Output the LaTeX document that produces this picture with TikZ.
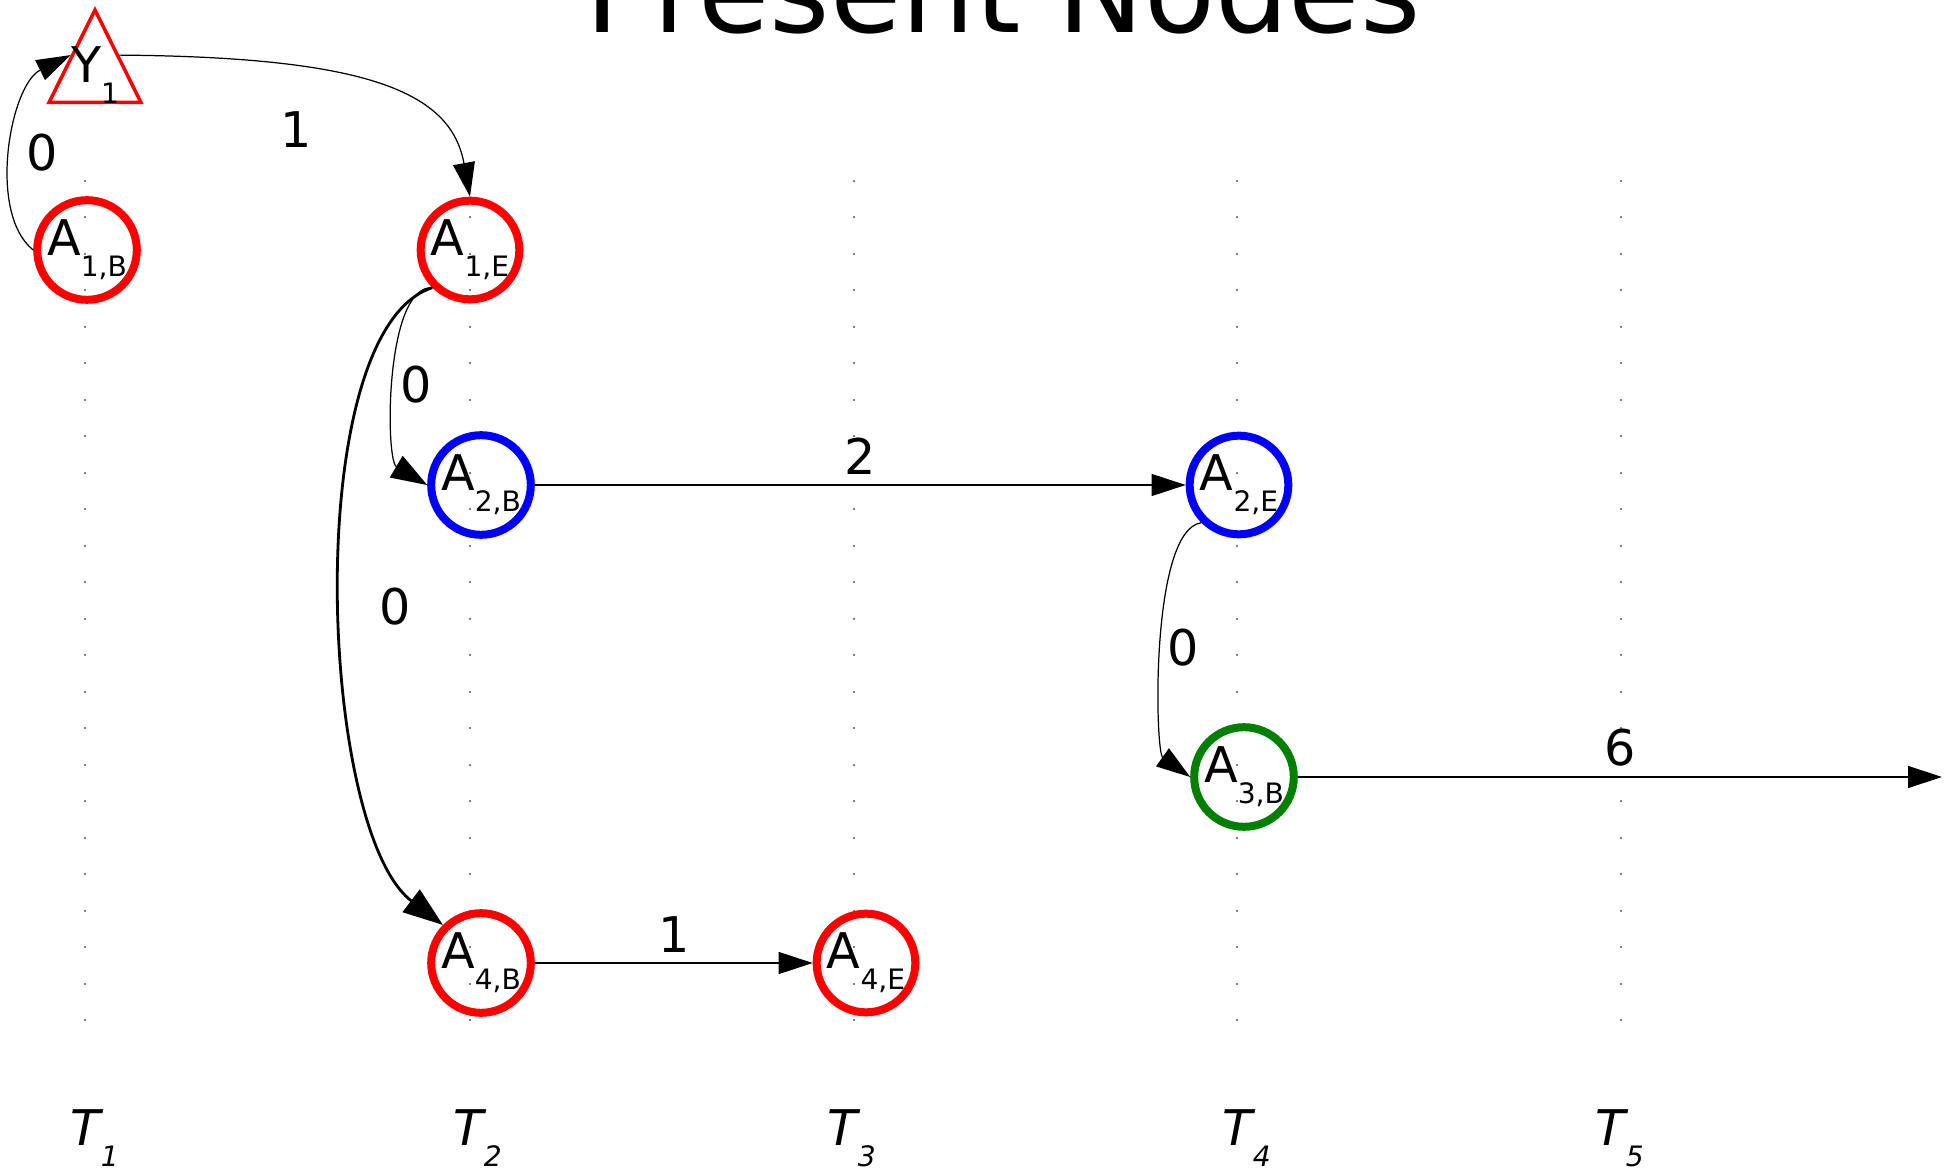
\documentclass[tikz,border=0pt]{standalone}
\usepackage{fontspec}
\setmainfont{DejaVu Sans}
\usetikzlibrary{arrows.meta, positioning, shapes.geometric}
\newcommand{\ix}[1]{\raisebox{-2.1mm}{\fontsize{8}{9}\selectfont #1}}

\begin{document}
\begin{tikzpicture}[
    x=0.1mm, y=0.1mm,
    ev/.style={circle, draw, line width=0.8mm, minimum size=9.2mm, inner sep=0pt,
               font=\fontsize{14}{16}\selectfont},
    trg/.style={isosceles triangle, shape border rotate=90,
                isosceles triangle apex angle=52, isosceles triangle stretches,
                draw=red, line width=0.35mm, minimum width=9.2mm, minimum height=9.25mm,
                inner sep=0pt, font=\fontsize{14}{16}\selectfont},
    arr/.style={-{Triangle[length=3.4mm, width=2.2mm]}, line width=0.35pt},
    lbl/.style={inner sep=0pt, font=\fontsize{14}{16}\selectfont},
    tlbl/.style={inner sep=0pt, anchor=base west, font=\fontsize{14}{16}\selectfont\itshape},
    tick/.style={gray, line width=0.2mm, dash pattern=on 0.2mm off 3.45mm},
]
    \useasboundingbox (0,0) rectangle (1954,-1171);

    % time columns
    \foreach \x in {85,470,854,1237,1621}
        \draw[tick] (\x,-180) -- (\x,-1021);
    \foreach \x/\i in {70/1,453/2,827/3,1222/4,1595/5}
        \node[tlbl] (T\i) at (\x,-1145) {T\ix{\i}};

    \node[font=\fontsize{33}{40}\selectfont, anchor=base] (ttl) at (1003,-33) {Present Nodes};

    \node[trg, anchor=apex] (Y1) at (95,-6) {\raisebox{0.6mm}[0pt][0pt]{Y\ix{1}}};

    \node[ev, draw=red]               (A1B) at (87,-250)   {A\ix{1,B}};
    \node[ev, draw=red]               (A1E) at (470,-250)  {A\ix{1,E}};
    \node[ev, draw=blue]              (A2B) at (481,-485)  {A\ix{2,B}};
    \node[ev, draw=blue]              (A2E) at (1239,-485) {A\ix{2,E}};
    \node[ev, draw=green!50!black]    (A3B) at (1244,-777) {A\ix{3,B}};
    \node[ev, draw=red]               (A4B) at (481,-963)  {A\ix{4,B}};
    \node[ev, draw=red]               (A4E) at (866,-963)  {A\ix{4,E}};
    \coordinate (out) at (1942,-777);

    \draw[arr] (A1B.west) .. controls (-13,-213) and (10,-85) .. (Y1.left side);
    \draw[arr] (Y1.right side) .. controls (368,-57) and (451,-92) .. (A1E.north);
    \draw[-{Triangle[length=3.6mm, width=2.5mm]}, line width=0.35pt]
        (A1E.-135) .. controls (385,-285) and (385,-460) .. (A2B.west);
    \draw[-{Triangle[length=4mm, width=2.8mm]}, line width=0.8pt]
        (A1E.-135) .. controls (300,-330) and (318,-830) .. (A4B.135);
    \draw[arr] (A2B) -- node[lbl, above=1mm] (w5) {2} (A2E);
    \draw[arr] (A2E.-135) .. controls (1150,-530) and (1155,-752) .. (A3B.west);
    \draw[arr] (A3B) -- node[lbl, above=1mm] (w7) {6} (out);
    \draw[arr] (A4B) -- node[lbl, above=1mm] (w8) {1} (A4E);

    \node[lbl] (w1) at (42,-153)   {0};
    \node[lbl] (w2) at (296,-130)  {1};
    \node[lbl] (w3) at (416,-385)  {0};
    \node[lbl] (w4) at (395,-607)  {0};
    \node[lbl] (w6) at (1183,-648) {0};
\end{tikzpicture}
\end{document}
